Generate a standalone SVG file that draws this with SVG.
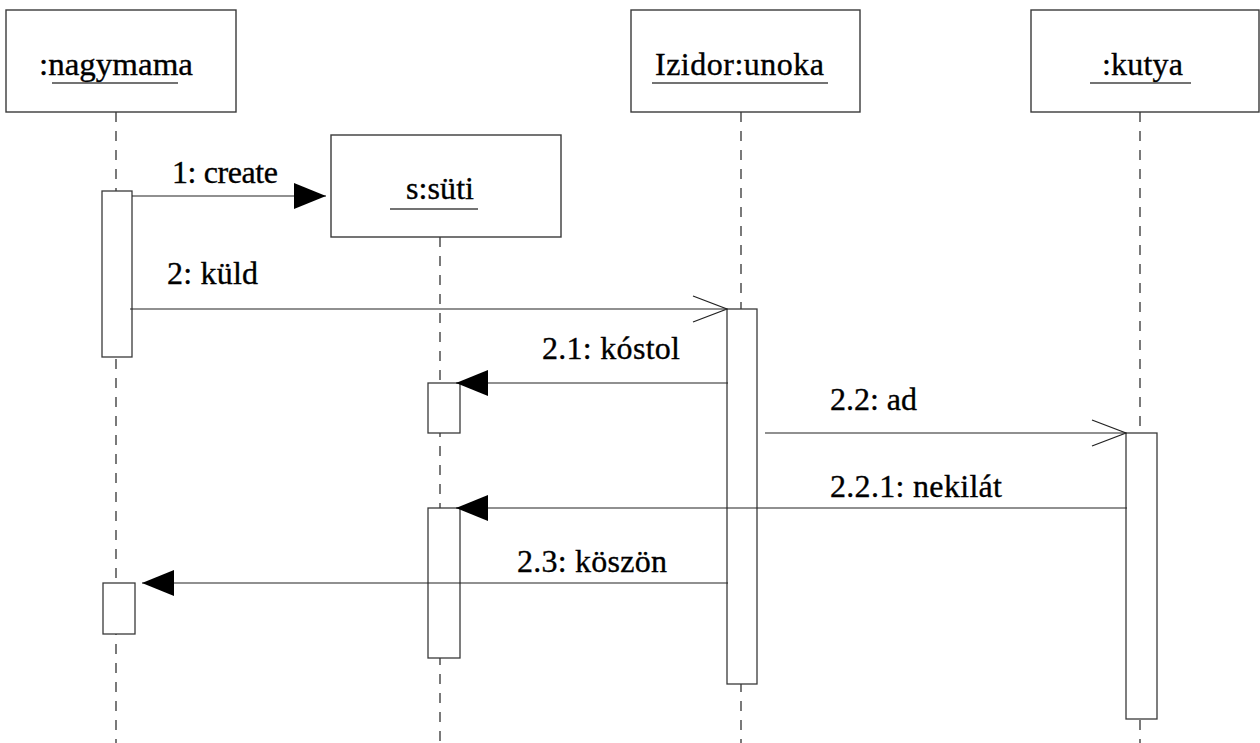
<svg xmlns="http://www.w3.org/2000/svg" width="1260" height="743" viewBox="0 0 1260 743">
<style>
.box{fill:#fff;stroke:#3a3a3a;stroke-width:1.4}
.bar{fill:#fff;stroke:#3a3a3a;stroke-width:1.3}
.life{stroke:#222;stroke-width:1.2;stroke-dasharray:10 9;fill:none}
.ul{stroke:#444;stroke-width:1.4}
.msg{stroke:#222;stroke-width:1.2;fill:none}
text{font-family:"Liberation Serif","Times New Roman",serif;font-size:32px;fill:#000;stroke:#000;stroke-width:0.35}
</style>
<defs>
<marker id="filled" markerUnits="userSpaceOnUse" viewBox="0 0 32 26" refX="32" refY="13" markerWidth="32" markerHeight="26" orient="auto">
<path d="M0,0 L32,13 L0,26 z" fill="#000"/>
</marker>
<marker id="open" markerUnits="userSpaceOnUse" viewBox="-1 -1 36 28" refX="34" refY="13" markerWidth="36" markerHeight="28" orient="auto">
<path d="M0,0 L34,13 L0,26" fill="none" stroke="#222" stroke-width="1.3"/>
</marker>
</defs>
<g id="nagymama">
<line class="life" x1="116" y1="112" x2="116" y2="743"/>
<rect class="box" x="6" y="10" width="230" height="102"/>
<text x="39" y="75" textLength="154" lengthAdjust="spacingAndGlyphs">:nagymama</text>
<line class="ul" x1="52" y1="83" x2="178" y2="83"/>
</g>
<g id="unoka">
<line class="life" x1="741" y1="112" x2="741" y2="743"/>
<rect class="box" x="631" y="10" width="229" height="102"/>
<text x="655" y="75" textLength="169" lengthAdjust="spacing">Izidor:unoka</text>
<line class="ul" x1="652" y1="83" x2="828" y2="83"/>
</g>
<g id="kutya">
<line class="life" x1="1140" y1="112" x2="1140" y2="743"/>
<rect class="box" x="1031" y="10" width="228" height="102"/>
<text x="1102" y="75" textLength="81" lengthAdjust="spacing">:kutya</text>
<line class="ul" x1="1090" y1="83" x2="1191" y2="83"/>
</g>
<g id="suti">
<line class="life" x1="440" y1="237" x2="440" y2="743"/>
<rect class="box" x="331" y="135" width="230" height="102"/>
<text x="406" y="199" textLength="68" lengthAdjust="spacing">s:süti</text>
<line class="ul" x1="390" y1="209" x2="478" y2="209"/>
</g>
<g id="activations">
<rect id="act-nagymama-1" class="bar" x="102" y="191" width="30" height="166"/>
<rect id="act-nagymama-2" class="bar" x="103" y="583" width="32" height="51"/>
<rect id="act-suti-1" class="bar" x="428" y="383" width="32" height="50"/>
<rect id="act-suti-2" class="bar" x="428" y="508" width="32" height="150"/>
<rect id="act-unoka" class="bar" x="727" y="309" width="30" height="375"/>
<rect id="act-kutya" class="bar" x="1126" y="433" width="31" height="286"/>
</g>
<g id="connectors">
<line class="msg" x1="132" y1="196" x2="326" y2="196" marker-end="url(#filled)"/>
<text x="172" y="183" textLength="106" lengthAdjust="spacing">1: create</text>
<line class="msg" x1="130" y1="309" x2="727" y2="309" marker-end="url(#open)"/>
<text x="167" y="284" textLength="91" lengthAdjust="spacing">2: küld</text>
<line class="msg" x1="728" y1="383" x2="456" y2="383" marker-end="url(#filled)"/>
<text x="542" y="359" textLength="138" lengthAdjust="spacing">2.1: kóstol</text>
<line class="msg" x1="765" y1="433" x2="1126" y2="433" marker-end="url(#open)"/>
<text x="830" y="410" textLength="87" lengthAdjust="spacing">2.2: ad</text>
<line class="msg" x1="1127" y1="508" x2="456" y2="508" marker-end="url(#filled)"/>
<text x="830" y="497" textLength="172" lengthAdjust="spacing">2.2.1: nekilát</text>
<line class="msg" x1="728" y1="583" x2="142" y2="583" marker-end="url(#filled)"/>
<text x="517" y="572" textLength="150" lengthAdjust="spacing">2.3: köszön</text>
</g>
</svg>
